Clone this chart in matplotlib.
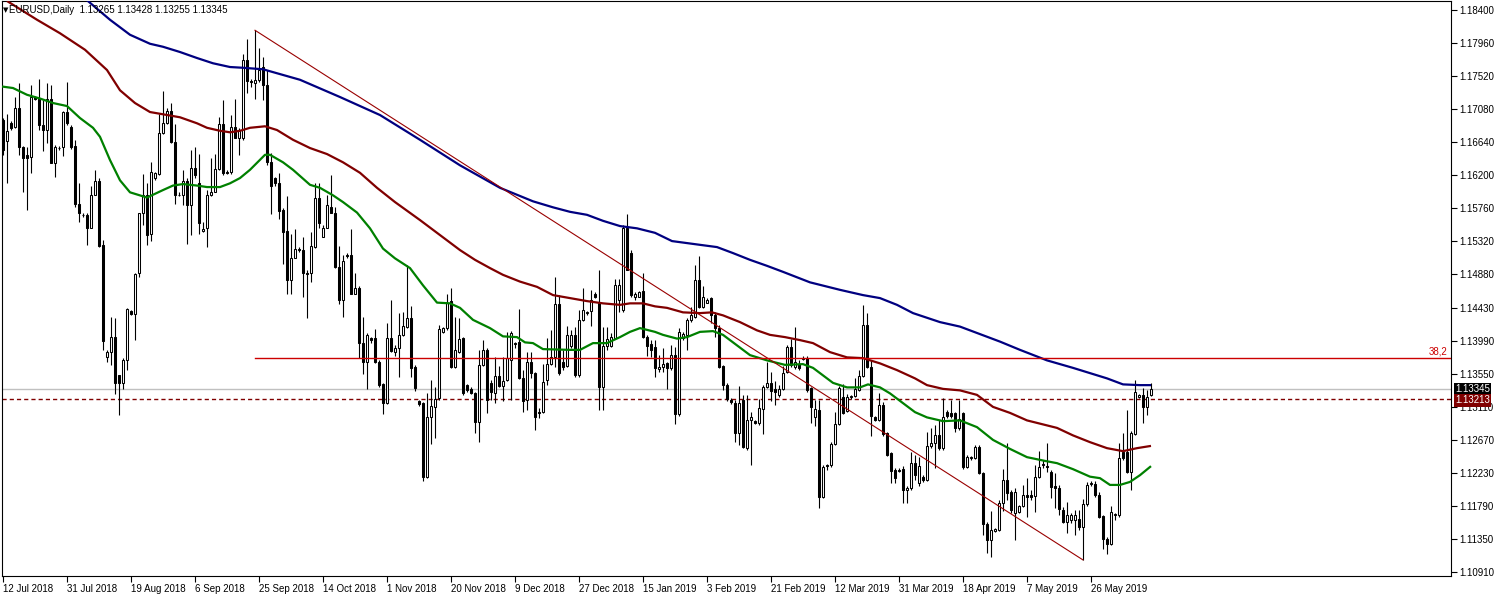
import matplotlib
matplotlib.use("Agg")
import matplotlib.pyplot as plt
import numpy as np

# ---------------- data ----------------
opens = [
 1.1693, 1.1665, 1.1689, 1.1684, 1.1709, 1.1657, 1.1647, 1.1644, 1.1724, 1.1722,
 1.1687, 1.1680, 1.1722, 1.1636, 1.1656, 1.1657, 1.1704, 1.1684, 1.1659, 1.1582,
 1.1567, 1.1567, 1.1550, 1.1594, 1.1612, 1.1527, 1.1377, 1.1384, 1.1404, 1.1353,
 1.1343, 1.1373, 1.1439, 1.1435, 1.1489, 1.1569, 1.1593, 1.1542, 1.1616, 1.1621,
 1.1676, 1.1689, 1.1706, 1.1664, 1.1594, 1.1593, 1.1612, 1.1580, 1.1630, 1.1609,
 1.1545, 1.1549, 1.1594, 1.1598, 1.1628, 1.1688, 1.1624, 1.1624, 1.1684, 1.1669,
 1.1669, 1.1774, 1.1745, 1.1743, 1.1747, 1.1764, 1.1740, 1.1637, 1.1616, 1.1609,
 1.1573, 1.1545, 1.1480, 1.1510, 1.1521, 1.1520, 1.1490, 1.1489, 1.1524, 1.1590,
 1.1538, 1.1550, 1.1578, 1.1570, 1.1497, 1.1454, 1.1513, 1.1513, 1.1462, 1.1469,
 1.1396, 1.1371, 1.1403, 1.1403, 1.1371, 1.1341, 1.1316, 1.1403, 1.1384, 1.1389,
 1.1407, 1.1417, 1.1429, 1.1364, 1.1319, 1.1316, 1.1217, 1.1297, 1.1311, 1.1323,
 1.1411, 1.1416, 1.1452, 1.1364, 1.1384, 1.1403, 1.1340, 1.1335, 1.1329, 1.1291,
 1.1367, 1.1387, 1.1343, 1.1329, 1.1352, 1.1339, 1.1347, 1.1373, 1.1396, 1.1397,
 1.1349, 1.1320, 1.1371, 1.1356, 1.1304, 1.1304, 1.1347, 1.1368, 1.1377, 1.1448,
 1.1371, 1.1365, 1.1392, 1.1407, 1.1353, 1.1427, 1.1436, 1.1439, 1.1462, 1.1449,
 1.1337, 1.1392, 1.1392, 1.1403, 1.1453, 1.1440, 1.1549, 1.1516, 1.1457, 1.1458,
 1.1466, 1.1404, 1.1395, 1.1391, 1.1361, 1.1364, 1.1369, 1.1363, 1.1380, 1.1301,
 1.1403, 1.1407, 1.1427, 1.1431, 1.1480, 1.1444, 1.1450, 1.1456, 1.1433, 1.1416,
 1.1365, 1.1340, 1.1320, 1.1316, 1.1276, 1.1320, 1.1256, 1.1293, 1.1292, 1.1289,
 1.1308, 1.1337, 1.1343, 1.1335, 1.1327, 1.1335, 1.1357, 1.1391, 1.1364, 1.1368,
 1.1376, 1.1376, 1.1336, 1.1297, 1.1307, 1.1191, 1.1233, 1.1233, 1.1261, 1.1288,
 1.1324, 1.1305, 1.1324, 1.1325, 1.1333, 1.1352, 1.1420, 1.1364, 1.1297, 1.1293,
 1.1313, 1.1276, 1.1249, 1.1227, 1.1227, 1.1228, 1.1200, 1.1203, 1.1236, 1.1209,
 1.1217, 1.1213, 1.1259, 1.1263, 1.1273, 1.1256, 1.1304, 1.1303, 1.1303, 1.1283,
 1.1303, 1.1231, 1.1243, 1.1243, 1.1257, 1.1223, 1.1155, 1.1133, 1.1145, 1.1147,
 1.1183, 1.1213, 1.1197, 1.1169, 1.1171, 1.1179, 1.1193, 1.1193, 1.1192, 1.1217,
 1.1233, 1.1232, 1.1224, 1.1205, 1.1203, 1.1173, 1.1157, 1.1160, 1.1160, 1.1161,
 1.1151, 1.1181, 1.1208, 1.1208, 1.1193, 1.1165, 1.1135, 1.1128, 1.1167, 1.1167,
 1.1251, 1.1251, 1.1224, 1.1275, 1.1324, 1.1327, 1.1311, 1.13265]

highs = [
 1.1696, 1.1702, 1.1692, 1.1724, 1.1743, 1.1659, 1.1657, 1.1740, 1.1726, 1.1748,
 1.1720, 1.1743, 1.1740, 1.1660, 1.1659, 1.1706, 1.1744, 1.1687, 1.1667, 1.1609,
 1.1569, 1.1569, 1.1606, 1.1627, 1.1616, 1.1533, 1.1387, 1.1431, 1.1429, 1.1353,
 1.1376, 1.1443, 1.1440, 1.1489, 1.1570, 1.1621, 1.1609, 1.1637, 1.1624, 1.1702,
 1.1732, 1.1709, 1.1716, 1.1688, 1.1597, 1.1627, 1.1616, 1.1653, 1.1657, 1.1648,
 1.1557, 1.1600, 1.1643, 1.1648, 1.1697, 1.1720, 1.1627, 1.1700, 1.1722, 1.1683,
 1.1782, 1.1801, 1.1748, 1.1813, 1.1790, 1.1777, 1.1760, 1.1649, 1.1617, 1.1623,
 1.1576, 1.1592, 1.1541, 1.1548, 1.1524, 1.1538, 1.1493, 1.1544, 1.1609, 1.1609,
 1.1553, 1.1593, 1.1620, 1.1578, 1.1525, 1.1513, 1.1516, 1.1548, 1.1490, 1.1472,
 1.1431, 1.1409, 1.1404, 1.1415, 1.1373, 1.1343, 1.1423, 1.1453, 1.1393, 1.1436,
 1.1437, 1.1500, 1.1445, 1.1367, 1.1320, 1.1317, 1.1329, 1.1347, 1.1337, 1.1420,
 1.1417, 1.1462, 1.1470, 1.1431, 1.1429, 1.1404, 1.1341, 1.1337, 1.1331, 1.1387,
 1.1400, 1.1389, 1.1347, 1.1377, 1.1365, 1.1377, 1.1411, 1.1412, 1.1397, 1.1441,
 1.1360, 1.1384, 1.1384, 1.1357, 1.1309, 1.1368, 1.1403, 1.1413, 1.1484, 1.1460,
 1.1387, 1.1419, 1.1413, 1.1417, 1.1440, 1.1469, 1.1439, 1.1467, 1.1464, 1.1494,
 1.1417, 1.1417, 1.1409, 1.1481, 1.1482, 1.1553, 1.1568, 1.1520, 1.1464, 1.1466,
 1.1490, 1.1407, 1.1400, 1.1400, 1.1380, 1.1389, 1.1371, 1.1393, 1.1391, 1.1416,
 1.1411, 1.1429, 1.1444, 1.1500, 1.1512, 1.1472, 1.1456, 1.1457, 1.1437, 1.1420,
 1.1367, 1.1343, 1.1323, 1.1320, 1.1339, 1.1327, 1.1327, 1.1304, 1.1293, 1.1321,
 1.1340, 1.1371, 1.1357, 1.1345, 1.1340, 1.1365, 1.1393, 1.1401, 1.1417, 1.1373,
 1.1379, 1.1379, 1.1337, 1.1320, 1.1320, 1.1233, 1.1235, 1.1264, 1.1304, 1.1339,
 1.1341, 1.1328, 1.1327, 1.1349, 1.1360, 1.1447, 1.1436, 1.1373, 1.1299, 1.1329,
 1.1317, 1.1277, 1.1251, 1.1229, 1.1229, 1.1232, 1.1205, 1.1251, 1.1247, 1.1244,
 1.1220, 1.1277, 1.1283, 1.1287, 1.1293, 1.1323, 1.1307, 1.1320, 1.1304, 1.1320,
 1.1304, 1.1247, 1.1245, 1.1260, 1.1260, 1.1224, 1.1157, 1.1172, 1.1149, 1.1187,
 1.1228, 1.1263, 1.1200, 1.1203, 1.1180, 1.1207, 1.1216, 1.1200, 1.1233, 1.1252,
 1.1240, 1.1263, 1.1227, 1.1223, 1.1207, 1.1177, 1.1184, 1.1169, 1.1173, 1.1173,
 1.1188, 1.1211, 1.1212, 1.1212, 1.1197, 1.1167, 1.1137, 1.1179, 1.1169, 1.1263,
 1.1276, 1.1307, 1.1279, 1.1347, 1.1328, 1.1336, 1.1333, 1.13428]

lows = [
 1.1647, 1.1609, 1.1680, 1.1683, 1.1647, 1.1598, 1.1573, 1.1623, 1.1720, 1.1680,
 1.1652, 1.1663, 1.1636, 1.1617, 1.1653, 1.1645, 1.1687, 1.1655, 1.1578, 1.1557,
 1.1564, 1.1527, 1.1549, 1.1593, 1.1524, 1.1387, 1.1371, 1.1367, 1.1328, 1.1300,
 1.1335, 1.1360, 1.1433, 1.1400, 1.1484, 1.1553, 1.1527, 1.1532, 1.1614, 1.1620,
 1.1675, 1.1688, 1.1663, 1.1582, 1.1592, 1.1580, 1.1528, 1.1540, 1.1616, 1.1542,
 1.1544, 1.1524, 1.1592, 1.1597, 1.1627, 1.1620, 1.1621, 1.1621, 1.1669, 1.1647,
 1.1667, 1.1729, 1.1738, 1.1722, 1.1744, 1.1720, 1.1633, 1.1568, 1.1606, 1.1561,
 1.1502, 1.1462, 1.1461, 1.1509, 1.1518, 1.1457, 1.1429, 1.1477, 1.1523, 1.1550,
 1.1537, 1.1549, 1.1569, 1.1496, 1.1448, 1.1431, 1.1510, 1.1461, 1.1461, 1.1376,
 1.1355, 1.1335, 1.1396, 1.1369, 1.1337, 1.1301, 1.1315, 1.1384, 1.1379, 1.1351,
 1.1405, 1.1416, 1.1351, 1.1332, 1.1312, 1.1212, 1.1216, 1.1261, 1.1269, 1.1320,
 1.1409, 1.1413, 1.1363, 1.1363, 1.1383, 1.1327, 1.1331, 1.1328, 1.1276, 1.1264,
 1.1365, 1.1303, 1.1320, 1.1316, 1.1337, 1.1319, 1.1345, 1.1320, 1.1389, 1.1348,
 1.1304, 1.1307, 1.1349, 1.1280, 1.1296, 1.1303, 1.1340, 1.1367, 1.1364, 1.1353,
 1.1360, 1.1364, 1.1389, 1.1351, 1.1351, 1.1425, 1.1433, 1.1419, 1.1456, 1.1307,
 1.1307, 1.1387, 1.1391, 1.1401, 1.1437, 1.1437, 1.1493, 1.1457, 1.1453, 1.1457,
 1.1403, 1.1379, 1.1377, 1.1351, 1.1357, 1.1357, 1.1335, 1.1360, 1.1288, 1.1299,
 1.1400, 1.1387, 1.1424, 1.1429, 1.1443, 1.1443, 1.1449, 1.1423, 1.1404, 1.1363,
 1.1333, 1.1319, 1.1315, 1.1264, 1.1260, 1.1256, 1.1253, 1.1233, 1.1288, 1.1287,
 1.1275, 1.1336, 1.1319, 1.1313, 1.1324, 1.1333, 1.1356, 1.1364, 1.1361, 1.1360,
 1.1373, 1.1331, 1.1289, 1.1285, 1.1176, 1.1189, 1.1227, 1.1231, 1.1260, 1.1287,
 1.1301, 1.1304, 1.1321, 1.1324, 1.1332, 1.1351, 1.1363, 1.1272, 1.1292, 1.1292,
 1.1272, 1.1245, 1.1209, 1.1209, 1.1224, 1.1183, 1.1183, 1.1200, 1.1213, 1.1205,
 1.1211, 1.1212, 1.1256, 1.1229, 1.1253, 1.1253, 1.1296, 1.1296, 1.1277, 1.1280,
 1.1228, 1.1229, 1.1240, 1.1241, 1.1221, 1.1140, 1.1116, 1.1111, 1.1144, 1.1145,
 1.1172, 1.1187, 1.1169, 1.1133, 1.1169, 1.1177, 1.1164, 1.1187, 1.1171, 1.1216,
 1.1229, 1.1224, 1.1189, 1.1176, 1.1167, 1.1156, 1.1143, 1.1156, 1.1140, 1.1147,
 1.1107, 1.1179, 1.1205, 1.1191, 1.1163, 1.1121, 1.1115, 1.1127, 1.1160, 1.1164,
 1.1240, 1.1223, 1.1200, 1.1273, 1.1323, 1.1289, 1.1300, 1.13255]

closes = [
 1.1653, 1.1679, 1.1683, 1.1709, 1.1657, 1.1643, 1.1643, 1.1724, 1.1722, 1.1687,
 1.1680, 1.1722, 1.1636, 1.1657, 1.1656, 1.1704, 1.1689, 1.1657, 1.1582, 1.1570,
 1.1567, 1.1550, 1.1594, 1.1612, 1.1525, 1.1399, 1.1384, 1.1404, 1.1343, 1.1343,
 1.1373, 1.1441, 1.1435, 1.1488, 1.1569, 1.1593, 1.1540, 1.1624, 1.1623, 1.1676,
 1.1689, 1.1706, 1.1664, 1.1593, 1.1593, 1.1612, 1.1580, 1.1630, 1.1620, 1.1556,
 1.1548, 1.1594, 1.1598, 1.1628, 1.1688, 1.1623, 1.1623, 1.1684, 1.1669, 1.1680,
 1.1774, 1.1745, 1.1744, 1.1747, 1.1760, 1.1740, 1.1637, 1.1606, 1.1609, 1.1572,
 1.1544, 1.1480, 1.1510, 1.1521, 1.1520, 1.1489, 1.1488, 1.1525, 1.1590, 1.1556,
 1.1550, 1.1580, 1.1570, 1.1497, 1.1454, 1.1505, 1.1512, 1.1462, 1.1470, 1.1396,
 1.1371, 1.1407, 1.1400, 1.1371, 1.1340, 1.1316, 1.1403, 1.1385, 1.1389, 1.1407,
 1.1419, 1.1429, 1.1363, 1.1336, 1.1315, 1.1217, 1.1297, 1.1312, 1.1321, 1.1415,
 1.1416, 1.1449, 1.1364, 1.1387, 1.1401, 1.1329, 1.1333, 1.1329, 1.1291, 1.1367,
 1.1387, 1.1320, 1.1331, 1.1352, 1.1339, 1.1345, 1.1376, 1.1409, 1.1395, 1.1349,
 1.1319, 1.1371, 1.1356, 1.1297, 1.1303, 1.1344, 1.1368, 1.1377, 1.1448, 1.1356,
 1.1364, 1.1407, 1.1407, 1.1353, 1.1427, 1.1440, 1.1437, 1.1454, 1.1457, 1.1337,
 1.1392, 1.1401, 1.1404, 1.1474, 1.1473, 1.1549, 1.1494, 1.1460, 1.1462, 1.1464,
 1.1404, 1.1392, 1.1387, 1.1363, 1.1364, 1.1368, 1.1363, 1.1380, 1.1301, 1.1411,
 1.1408, 1.1427, 1.1433, 1.1480, 1.1444, 1.1457, 1.1454, 1.1433, 1.1416, 1.1364,
 1.1340, 1.1321, 1.1317, 1.1276, 1.1316, 1.1257, 1.1293, 1.1297, 1.1289, 1.1309,
 1.1337, 1.1343, 1.1332, 1.1331, 1.1335, 1.1356, 1.1391, 1.1367, 1.1371, 1.1363,
 1.1375, 1.1333, 1.1311, 1.1308, 1.1191, 1.1231, 1.1232, 1.1261, 1.1288, 1.1336,
 1.1303, 1.1324, 1.1325, 1.1335, 1.1352, 1.1420, 1.1364, 1.1299, 1.1293, 1.1313,
 1.1275, 1.1247, 1.1225, 1.1216, 1.1225, 1.1200, 1.1203, 1.1236, 1.1220, 1.1232,
 1.1213, 1.1259, 1.1263, 1.1273, 1.1256, 1.1297, 1.1299, 1.1299, 1.1283, 1.1295,
 1.1231, 1.1244, 1.1244, 1.1257, 1.1223, 1.1155, 1.1133, 1.1147, 1.1148, 1.1183,
 1.1213, 1.1196, 1.1173, 1.1197, 1.1179, 1.1193, 1.1191, 1.1191, 1.1217, 1.1231,
 1.1235, 1.1231, 1.1204, 1.1203, 1.1175, 1.1157, 1.1167, 1.1167, 1.1167, 1.1151,
 1.1181, 1.1207, 1.1209, 1.1193, 1.1164, 1.1135, 1.1128, 1.1171, 1.1168, 1.1243,
 1.1243, 1.1224, 1.1276, 1.1331, 1.1327, 1.1311, 1.1324, 1.13345]

# moving averages (bar position, price)
green_x = [-0.25, 2.5, 6, 9.25, 12.5, 16, 19.25, 22.5, 24.25, 26.75, 29.25, 31.75, 36, 40,
           42.5, 45, 48.5, 51, 54.25, 56.75, 59.25, 61.75, 65.5, 66.75, 70, 72.5, 76.75,
           79.25, 82.5, 85, 88.5, 91.75, 95, 98, 101.75, 105, 108.5, 111.75, 114.25, 117.5,
           121.75, 125, 128.5, 130.5, 132.5, 135, 141.75, 144.25, 147.5, 151, 154.25,
           156.75, 159.25, 163, 165, 168.5, 171, 174.25, 177.5, 180, 182.5, 186.75, 191,
           195.5, 200, 202.5, 205, 207.5, 211, 214.25, 216.25, 219.25, 221.75, 225, 228,
           231, 235, 239.25, 243.5, 247.5, 251.75, 256, 260.5, 263.5, 267.5, 271.75,
           274.25, 276.75, 279.25, 281.75, 284.25, 287]
green_v = [1.1738, 1.1736, 1.1727, 1.1722, 1.1716, 1.1712, 1.1696, 1.1683, 1.1671, 1.1640,
           1.1613, 1.1597, 1.1590, 1.1600, 1.1606, 1.1608, 1.1606, 1.1604, 1.1604, 1.1609,
           1.1616, 1.1627, 1.1647, 1.1647, 1.1637, 1.1627, 1.1607, 1.1603, 1.1593, 1.1584,
           1.1570, 1.1549, 1.1522, 1.1509, 1.1496, 1.1473, 1.1450, 1.1449, 1.1443, 1.1427,
           1.1416, 1.1405, 1.1404, 1.1397, 1.1396, 1.1388, 1.1387, 1.1387, 1.1396, 1.1396,
           1.1404, 1.1411, 1.1416, 1.1411, 1.1407, 1.1402, 1.1404, 1.1411, 1.1412, 1.1407,
           1.1397, 1.1380, 1.1373, 1.1367, 1.1368, 1.1363, 1.1353, 1.1343, 1.1337, 1.1337,
           1.1341, 1.1337, 1.1329, 1.1316, 1.1304, 1.1297, 1.1292, 1.1293, 1.1284, 1.1267,
           1.1255, 1.1244, 1.1239, 1.1236, 1.1228, 1.1218, 1.1216, 1.1207, 1.1207, 1.1211,
           1.1220, 1.1232]

brown_x = [1, 8.5, 14.25, 20.5, 26, 29.25, 33, 36.75, 40, 44.25, 48.5, 51, 54.25, 56.75,
           59.25, 61.75, 65.5, 68.5, 72.5, 76.75, 81, 85, 89.25, 93.5, 98, 104.25, 109.25,
           114.25, 118, 121.75, 125, 129.25, 133.5, 137.5, 141.75, 146, 150, 154.25, 156.75,
           160, 163, 166, 170, 174.25, 177.25, 180, 184.25, 188.5, 191.75, 195.5, 199.25,
           202.5, 206.75, 211, 215, 219.25, 223.5, 228, 231, 235, 239.25, 243.5, 247.5,
           251.75, 256, 260.5, 263.5, 267.5, 271.75, 276, 280, 283.5, 287]
brown_v = [1.1852, 1.1827, 1.1809, 1.1787, 1.1760, 1.1733, 1.1716, 1.1704, 1.1701, 1.1697,
           1.1689, 1.1683, 1.1679, 1.1677, 1.1679, 1.1683, 1.1685, 1.1680, 1.1667, 1.1656,
           1.1648, 1.1637, 1.1623, 1.1603, 1.1584, 1.1560, 1.1540, 1.1520, 1.1507, 1.1496,
           1.1487, 1.1478, 1.1471, 1.1460, 1.1456, 1.1452, 1.1449, 1.1447, 1.1449, 1.1449,
           1.1445, 1.1443, 1.1437, 1.1436, 1.1437, 1.1433, 1.1424, 1.1413, 1.1407, 1.1404,
           1.1400, 1.1396, 1.1384, 1.1377, 1.1376, 1.1369, 1.1360, 1.1349, 1.1340, 1.1335,
           1.1333, 1.1327, 1.1311, 1.1303, 1.1293, 1.1287, 1.1283, 1.1273, 1.1264, 1.1256,
           1.1252, 1.1256, 1.1259]

blue_x = [21, 26.75, 31.75, 36.75, 40, 44.25, 48.5, 52.5, 56.75, 60, 65, 74.25, 84.25,
          94.25, 104.25, 114.25, 124.25, 132.5, 137.5, 141.75, 146, 150, 154.25, 158.5, 163,
          167.25, 174.25, 178.5, 182.5, 186.75, 191, 195, 201.75, 209.25, 215, 219.25,
          223.5, 227.5, 234.25, 239.25, 249.25, 254.25, 261, 267.5, 271.75, 276, 280,
          284.25, 287]
blue_v = [1.1853, 1.1827, 1.1807, 1.1795, 1.1791, 1.1784, 1.1776, 1.1769, 1.1764, 1.1763,
          1.1761, 1.1747, 1.1724, 1.1700, 1.1667, 1.1633, 1.1603, 1.1585, 1.1577, 1.1571,
          1.1567, 1.1559, 1.1552, 1.1549, 1.1543, 1.1532, 1.1527, 1.1524, 1.1516, 1.1507,
          1.1499, 1.1491, 1.1477, 1.1467, 1.1460, 1.1456, 1.1447, 1.1436, 1.1424, 1.1418,
          1.1398, 1.1387, 1.1373, 1.1363, 1.1356, 1.1349, 1.1341, 1.1340, 1.1340]

date_labels = ["12 Jul 2018", "31 Jul 2018", "19 Aug 2018", "6 Sep 2018", "25 Sep 2018",
               "14 Oct 2018", "1 Nov 2018", "20 Nov 2018", "9 Dec 2018", "27 Dec 2018",
               "15 Jan 2019", "3 Feb 2019", "21 Feb 2019", "12 Mar 2019", "31 Mar 2019",
               "18 Apr 2019", "7 May 2019", "26 May 2019"]
date_bars = [0, 16, 32, 48, 64, 80, 96, 112, 128, 144, 160, 176, 192, 208, 224, 240, 256, 272]

price_ticks = [1.18400, 1.17960, 1.17520, 1.17080, 1.16640, 1.16200, 1.15760, 1.15320,
               1.14880, 1.14430, 1.13990, 1.13550, 1.13110, 1.12670, 1.12230, 1.11790,
               1.11350, 1.10910]
price_tick_labels = ["%.5f" % p for p in price_ticks]

trend_start_bar, trend_end_bar = 63, 270
fib_ratio = 0.382
bid_price = 1.13345
dashed_price = 1.13213
title = "EURUSD,Daily  1.13265 1.13428 1.13255 1.13345"

# ---------------- figure ----------------
W, H = 1497, 596
plt.rcParams['font.family'] = ['Liberation Sans', 'DejaVu Sans']
fig = plt.figure(figsize=(W / 100, H / 100), dpi=100)
fig.patch.set_facecolor('white')
ax = fig.add_axes([2 / W, 20 / H, 1449 / W, 575 / H])
ax.set_facecolor('white')
ax.set_xlim(-0.25, 362.0)
ax.set_ylim(1.10856, 1.18520)

o = np.array(opens); h = np.array(highs); l = np.array(lows); c = np.array(closes)
x = np.arange(len(o))
up = c >= o

# background lines
ax.axhline(bid_price, color='#c0c0c0', lw=1.0, zorder=1)
ax.axhline(dashed_price, color='#800000', lw=1.0, ls=(0, (3, 2.2)), zorder=1)

# candles
ax.vlines(x, l, h, color='black', linewidth=0.8, zorder=3)
ax.bar(x[up], (c - o)[up], bottom=o[up], width=0.5, facecolor='white',
       edgecolor='black', linewidth=0.75, zorder=4)
ax.bar(x[~up], (o - c)[~up], bottom=c[~up], width=0.5, facecolor='black',
       edgecolor='black', linewidth=0.75, zorder=4)

# moving averages
ax.plot(green_x, green_v, color='#008000', lw=1.6, zorder=5, solid_capstyle='butt')
ax.plot(brown_x, brown_v, color='#800000', lw=1.6, zorder=5, solid_capstyle='butt')
ax.plot(blue_x, blue_v, color='#000080', lw=1.6, zorder=5, solid_capstyle='butt')

# trend line and fibo level
p_hi = highs[trend_start_bar]
p_lo = lows[trend_end_bar]
ax.plot([trend_start_bar, trend_end_bar], [p_hi, p_lo], color='#990000', lw=0.8, zorder=6)
fib = p_lo + fib_ratio * (p_hi - p_lo)
ax.plot([trend_start_bar, 362.0], [fib, fib], color='#cc0000', lw=1.0, zorder=6)
ax.annotate("38,2", xy=(1.0, fib), xycoords=('axes fraction', 'data'),
            xytext=(-4, 1), textcoords='offset pixels', ha='right', va='bottom',
            color='#cc0000', fontsize=7)

# axes styling
for s in ax.spines.values():
    s.set_color('black'); s.set_linewidth(0.8)
ax.yaxis.tick_right()
ax.set_yticks(price_ticks)
ax.set_yticklabels(price_tick_labels)
ax.tick_params(axis='y', direction='out', length=4, width=0.8, labelsize=7, pad=2)
ax.set_xticks(date_bars)
ax.set_xticklabels(date_labels, ha='left')
ax.tick_params(axis='x', direction='out', length=4, width=0.8, labelsize=7, pad=2)

# price labels on the right scale
ax.annotate("%.5f" % bid_price, xy=(1.0, bid_price), xycoords=('axes fraction', 'data'),
            xytext=(4, 0), textcoords='offset pixels', ha='left', va='center',
            color='white', fontsize=7, zorder=10, annotation_clip=False,
            bbox=dict(boxstyle='square,pad=0.15', facecolor='black', edgecolor='none'))
ax.annotate("%.5f" % dashed_price, xy=(1.0, dashed_price), xycoords=('axes fraction', 'data'),
            xytext=(4, -1), textcoords='offset pixels', ha='left', va='center',
            color='white', fontsize=7, zorder=11, annotation_clip=False,
            bbox=dict(boxstyle='square,pad=0.15', facecolor='#800000', edgecolor='none'))

# title
fig.text(3 / W, 1 - 10 / H, "\u25BC", fontsize=5, va='center', ha='left', color='black',
         family='DejaVu Sans')
fig.text(9 / W, 1 - 10 / H, title, fontsize=7, va='center', ha='left', color='black')

fig.savefig("out.png", dpi=100)
